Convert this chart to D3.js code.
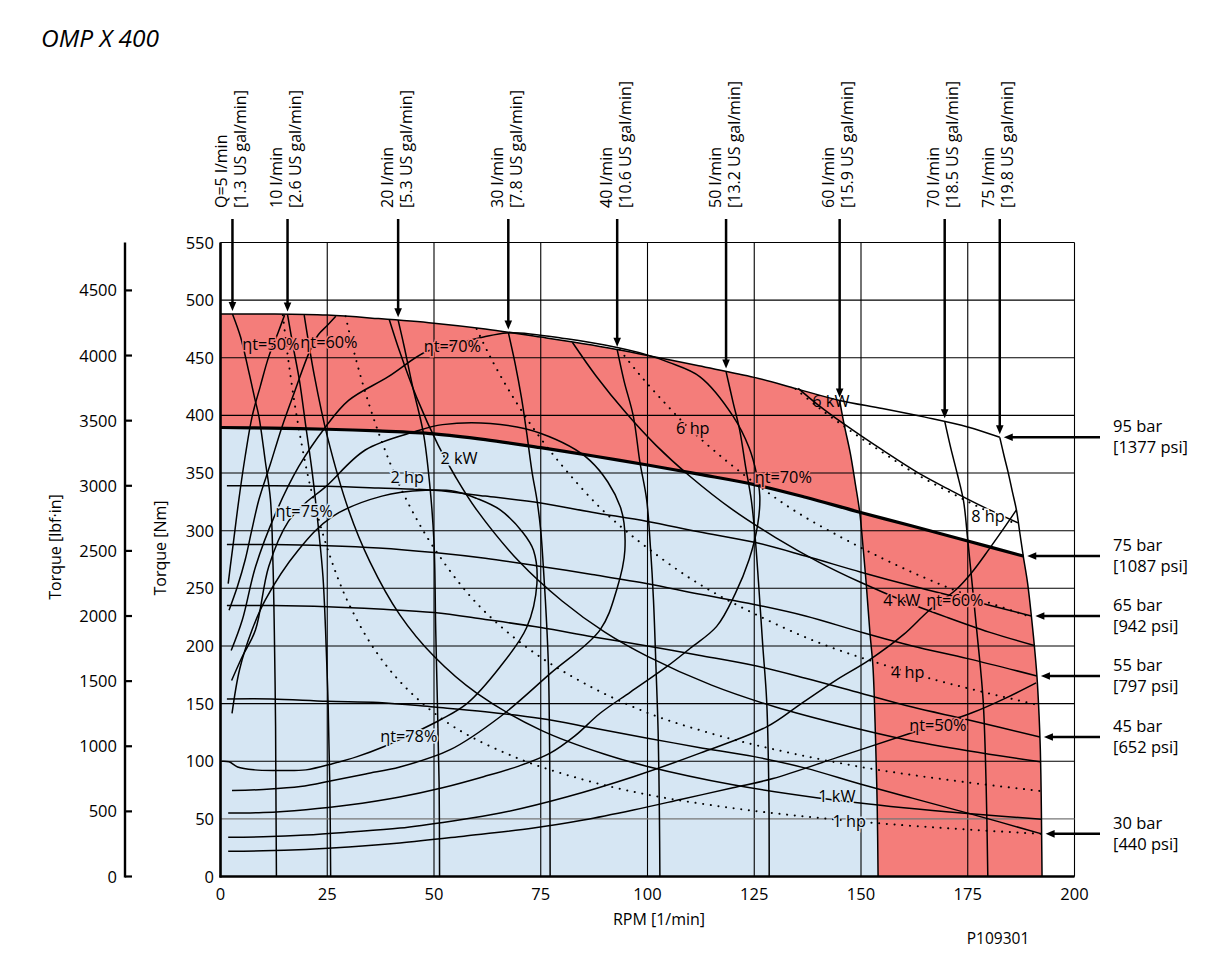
<!DOCTYPE html>
<html><head><meta charset="utf-8">
<script src="https://cdn.jsdelivr.net/npm/d3@7"></script>
<style>
body{margin:0;background:#fff;}
text{font-family:'Open Sans',sans-serif;fill:#000;}
</style></head><body>
<svg id="c" width="1213" height="958"></svg>
<script>
// ---------------- DATA ----------------
const rpmTicks = [0,25,50,75,100,125,150,175,200];
const nmTicks = [0,50,100,150,200,250,300,350,400,450,500,550];
const lbfTicks = [0,500,1000,1500,2000,2500,3000,3500,4000,4500];

// pressure lines [rpm, Nm]
const bar95 = [[0,488],[12,488],[25,487],[37,484],[50,480],[62,475],[75,468],[87,461],[100,452],[112,443],[125,433],[135,423],[145,413],[155,406],[165,398.5],[175,390],[182.5,381]];
const bar75 = [[0,389.5],[12,389],[25,388],[37,386.5],[50,384],[62,379],[75,372],[87,365],[100,357],[112,349],[125,340],[137,329],[149.7,316],[162,304],[175,291],[188,278]];
const bar65 = [[1.5,339],[12,339],[25,338.5],[37,337],[50,335],[62,330],[75,324],[87,316],[100,308],[112,299],[125,290],[137,278],[150,264],[162,252],[175,240],[189.9,226]];
const bar55 = [[1.5,288],[12,288],[25,287],[37,285],[50,281],[62,276],[75,269],[87,262],[100,254],[112,245],[125,236],[137,226],[150,212],[162,200],[175,189],[191.2,174]];
const bar45 = [[1.5,235],[12,235],[25,234],[37,232],[50,229],[62,223],[75,216],[87,208],[100,200],[112,192],[125,183],[137,172],[150,159],[162,147],[175,136],[191.9,121]];
const bar30 = [[1.5,154],[12,154],[25,152],[37,151],[50,147],[62,143],[75,137],[87,129],[100,120],[112,112],[125,104],[137,94],[150,80],[162,68],[175,55],[192.3,37]];
const pressureBar = ["95 bar","75 bar","65 bar","55 bar","45 bar","30 bar"];
const pressurePsi = ["[1377 psi]","[1087 psi]","[942 psi]","[797 psi]","[652 psi]","[440 psi]"];

// flow lines [rpm, Nm]
const q5  = [[2.8,488],[4.7,468],[6.5,440],[8,415],[9,399],[10.5,360],[11.7,327],[12.3,270],[12.6,214],[12.9,130],[13,60],[13.1,0]];
const q10 = [[15.7,487.5],[17,460],[18.5,430],[20,390],[21.5,350],[23,300],[24,260],[24.6,214],[25.2,150],[25.6,80],[25.8,0]];
const q20 = [[41.6,482.6],[43,460],[45,425],[47.5,385],[49,340],[50,290],[50.4,214],[50.8,150],[51.2,80],[51.3,0]];
const q30 = [[67.4,472],[69,445],[70.5,415],[71.7,385],[73,350],[74.1,327],[75,300],[75.6,269],[76.3,225],[76.8,182],[77.1,100],[77.2,0]];
const q40 = [[92.9,457],[94.5,430],[96.7,399],[98.2,360],[99.8,327],[100.7,285],[101.4,240],[102,180],[102.5,124],[102.8,50],[102.9,0]];
const q50 = [[118.4,438],[120,412],[121.6,387],[123,355],[124.3,327],[125.2,295],[126,255],[127,200],[127.9,153],[128.4,80],[128.5,0]];
const q60 = [[145,413],[146,393],[147.5,367],[148.7,340],[149.7,316],[150.5,285],[151.2,255],[152.1,211],[152.8,182],[153.4,120],[153.8,60],[154,0]];
const q70 = [[169.6,395],[171,372],[172.5,350],[174,326],[175,292],[176,255],[177.2,210],[178.6,153],[179.3,80],[179.7,0]];
const q75 = [[182.5,381],[183.5,365],[184.5,350],[185.5,333],[186.4,318],[187.2,298],[188,278],[189,255],[189.9,226],[190.6,200],[191.2,174],[191.7,140],[192,110],[192.2,70],[192.3,37],[192.4,0]];
const flowQ = ["Q=5 l/min","10 l/min","20 l/min","30 l/min","40 l/min","50 l/min","60 l/min","70 l/min","75 l/min"];
const flowGal = ["[1.3 US gal/min]","[2.6 US gal/min]","[5.3 US gal/min]","[7.8 US gal/min]","[10.6 US gal/min]","[13.2 US gal/min]","[15.9 US gal/min]","[18.5 US gal/min]","[19.8 US gal/min]"];

// total efficiency contours
const eff78 = [[0.3,100],[2,99.5],[4,95],[8,92.5],[13,92],[20,92.5],[26.4,98],[32,104],[38.2,112.6],[45,124],[51.5,136],[57.7,150],[65.5,182],[71.7,216],[74.1,254],[73.3,283],[70.9,298],[65.5,318],[60,328],[55,334],[48,335],[37.8,330],[26.1,312],[18.2,283],[10.5,240],[7.4,214],[4.5,180],[2.7,141.5]];
const eff75 = [[2.7,74.5],[10,75.5],[18.7,78],[26,83],[34,89],[42,95],[53.8,110],[65.5,138.6],[77.2,176],[88.9,214],[92.8,249],[94.7,283],[93.6,321],[86.5,361],[74.9,384.5],[63.2,393],[52,392],[45.6,386],[33.9,370],[24.6,338],[19.9,324],[15.9,308],[11.3,269],[8.2,214],[5,190],[2.6,170]];
const eff70 = [[1.8,55],[10,55.5],[20,58],[30,62],[42,69],[52,77],[61.6,86.6],[70,96],[77.2,107],[83,122],[88.9,141.6],[96,160],[104.5,182],[110,198],[116.2,217],[120.5,245],[123.8,275],[125.8,305],[126.3,330],[125.5,350],[123.8,372],[120.1,399],[112.3,433.5],[105,446],[99.9,452.5],[90,461],[80,467],[73,470.5],[67,471.5],[61.6,468],[55,462],[48,455],[39.3,433.6],[30,413],[24.6,390],[18.3,355.5],[12.9,315],[8.2,268.7],[5.1,222.5],[2.5,196]];
const eff60low = [[1.8,34],[10,34.5],[20,36],[30,38.5],[42,42],[54,48],[65.5,55],[81,69],[96.7,86.6],[112.3,107],[128,130],[136,150],[144,170],[152,188],[160,210],[166,231],[172.3,249],[176,264],[180,284],[184,305],[186.4,318]];
const eff60top = [[27,486],[25,478],[22.9,470],[20.7,454],[17.5,422],[14.4,390],[11.7,358],[9,327],[7.3,300],[5.8,275],[4,252],[2,231]];
const eff50low = [[1.8,22],[10,22.3],[20,23.5],[30,25.5],[42,29],[57,35],[73.3,42],[85,49],[96.7,57.7],[108,67],[120,77],[129.4,85],[145,104],[161.4,124],[168,132],[176,142],[184,155],[191,168]];
const eff50top = [[15,487],[13.5,472],[11.3,451],[9.3,425],[7.4,399],[5.8,365],[4.3,327],[3.2,295],[2.3,269],[1.8,254]];

// power curves (solid kW, dotted hp)
const kw1 = [[19.6,487],[22,434],[25,382],[30,318],[35,273],[42,227],[50,191],[60,159],[75,127],[90,106],[100,95.5],[120,79.6],[140,68.2],[160,59.7],[175,54.6],[192.3,49.7]];
const kw2 = [[39.5,483.5],[42,455],[46,415],[51,374],[55,347],[60,318],[70,273],[80,239],[90,212],[100,191],[115,166],[130,147],[145,132],[160,119],[175,109],[192,99.5]];
const kw4 = [[82.4,463.5],[88,434],[95,402],[102,374],[110,347],[120,318],[130,294],[140,273],[150,255],[160,239],[170,225],[180,212],[190.6,200.4]];
const kw6 = [[135.3,423.5],[140,409],[147,390],[155,370],[163,351],[171,335],[179,320],[186.75,306.8]];
const hp1 = [[14.6,487],[16,445],[18,396],[21,339],[25,285],[30,237],[37,192],[45,158],[55,129],[70,102],[85,84],[100,71],[120,59.3],[140,50.9],[160,44.5],[176,40.5],[192.3,37]];
const hp2 = [[29.3,486],[31,459],[34,419],[38,375],[43,331],[50,285],[60,237],[72,198],[85,168],[100,142],[115,124],[130,110],[150,95],[170,84],[192.2,74.1]];
const hp4 = [[60,475],[63,452],[68,419],[74,385],[81,352],[90,316],[100,285],[112,254],[125,228],[140,203],[155,184],[170,168],[191.5,148.7]];
const hp6 = [[93.5,457],[98,436],[104,411],[110,388],[118,362],[126,339],[135,316],[145,295],[155,276],[165,259],[175,244],[189.9,225]];
const hp8 = [[134.7,423],[140,407],[147,388],[155,368],[163,349],[171,333],[179,318],[186.8,305]];

// annotation texts with their anchor [rpm, Nm] (left end of baseline)
const labelText = ["ηt=50%","ηt=60%","ηt=70%","ηt=75%","ηt=78%","ηt=70%","ηt=60%","ηt=50%","4 kW","4 hp","1 kW","1 hp","6 hp","6 kW","8 hp","2 kW","2 hp"];
const labelRpm  = [5.1,18.7,47.6,12.9,37.4,125.1,165.3,161.3,155.2,157,140,143.3,106.7,138.6,175.8,51.5,39.8];
const labelNm   = [456.8,458.2,455.3,312,117,341,234.7,126.2,234.7,172,64.9,43.2,383.9,407.6,307.8,357.6,341];

// ---------------- DRAWING ----------------
const svg = d3.select('#c');
const x = d3.scaleLinear().domain([0,200]).range([220.5,1074.5]);
const y = d3.scaleLinear().domain([0,550]).range([876.5,242.5]);
const yl = d3.scaleLinear().domain([0,550*8.8507]).range([876.5,242.5]);
const ln = d3.line().x(d=>x(d[0])).y(d=>y(d[1])).curve(d3.curveCatmullRom.alpha(0.5));
const RED = '#F47D7A', BLUE = '#D6E6F3';

const cat = (...segs) => segs.map((s,i)=>{
  const p = typeof s === 'string' ? s : ln(s);
  return i ? p.replace(/^M/,'L') : p;
}).join('') + 'Z';

// fills
svg.append('path').attr('fill',RED).attr('d',
  cat(bar95.filter(d=>d[0]<=145), q60.filter(d=>d[1]>=316), bar75.filter(d=>d[0]<=149.7).reverse()));
svg.append('path').attr('fill',BLUE).attr('d',
  cat(bar75.filter(d=>d[0]<=149.7), q60.filter(d=>d[1]<=316), `M${x(0)},${y(0)}`));
svg.append('path').attr('fill',RED).attr('d',
  cat(bar75.filter(d=>d[0]>=149.7), q75.filter(d=>d[1]<=278), q60.filter(d=>d[1]<=316).reverse()));

// grid
const g = svg.append('g');
g.selectAll('.vg').data(rpmTicks).join('line')
  .attr('x1',d=>x(d)).attr('x2',d=>x(d)).attr('y1',y(0)).attr('y2',y(550))
  .attr('stroke','#000').attr('stroke-width',1.1);
g.selectAll('.hg').data(nmTicks).join('line')
  .attr('x1',x(0)).attr('x2',x(200)).attr('y1',d=>y(d)).attr('y2',d=>y(d))
  .attr('stroke',d=>d===50?'#777':'#000').attr('stroke-width',1.1);

// curves
const curves = svg.append('g').attr('fill','none').attr('stroke','#000');
const solid = [bar95,bar65,bar55,bar45,bar30,q5,q10,q20,q30,q40,q50,q60,q70,q75,
  eff78,eff75,eff70,eff60low,eff60top,eff50low,eff50top,kw1,kw2,kw4,kw6];
solid.forEach(s=>curves.append('path').attr('d',ln(s)).attr('stroke-width',1.5));
curves.append('path').attr('d',ln(bar75)).attr('stroke-width',3.2);
[hp1,hp2,hp4,hp6,hp8].forEach(s=>curves.append('path').attr('d',ln(s))
  .attr('stroke-width',2).attr('stroke-linecap','round').attr('stroke-dasharray','0.1 7.6'));

// axes
svg.append('line').attr('x1',x(0)).attr('x2',x(0)).attr('y1',y(0)+1).attr('y2',y(550)).attr('stroke','#000').attr('stroke-width',2.6);
svg.append('line').attr('x1',x(0)-1).attr('x2',x(200)).attr('y1',y(0)).attr('y2',y(0)).attr('stroke','#000').attr('stroke-width',2.6);
svg.append('line').attr('x1',125).attr('x2',125).attr('y1',y(0)+1).attr('y2',y(550)).attr('stroke','#000').attr('stroke-width',2.4);
svg.selectAll('.lt').data(lbfTicks).join('line')
  .attr('x1',125).attr('x2',132).attr('y1',d=>yl(d)).attr('y2',d=>yl(d)).attr('stroke','#000').attr('stroke-width',2.2);
svg.selectAll('.ltl').data(lbfTicks).join('text')
  .attr('x',117).attr('y',d=>yl(d)+6).attr('text-anchor','end').attr('font-size','16.5px').text(d=>d);
svg.selectAll('.ntl').data(nmTicks).join('text')
  .attr('x',214).attr('y',d=>y(d)+6).attr('text-anchor','end').attr('font-size','16.5px').text(d=>d);
svg.selectAll('.xtl').data(rpmTicks).join('text')
  .attr('x',d=>x(d)).attr('y',899.5).attr('text-anchor','middle').attr('font-size','16.5px').text(d=>d);

svg.append('text').attr('transform','translate(61,547) rotate(-90)').attr('text-anchor','middle').attr('font-size','16px').text('Torque [lbf·in]');
svg.append('text').attr('transform','translate(166,548) rotate(-90)').attr('text-anchor','middle').attr('font-size','16px').text('Torque [Nm]');
svg.append('text').attr('x',659).attr('y',925).attr('text-anchor','middle').attr('font-size','16px').text('RPM [1/min]');
svg.append('text').attr('x',998).attr('y',944).attr('text-anchor','middle').attr('font-size','15.5px').text('P109301');
svg.append('text').attr('x',41).attr('y',47).attr('font-size','24.5px').attr('font-style','italic').text('OMP X 400');

// curve labels
const labelBg = ["red","red","red","blue","blue","red","red","red","red","red","blue","blue","red","none","white","blue","blue"];
const bgCol = {red:RED, blue:BLUE, white:'#fff', none:'none'};
labelText.forEach((t,i)=>{
  svg.append('text').attr('x',x(labelRpm[i])).attr('y',y(labelNm[i]))
    .attr('font-size','16.3px').attr('stroke',bgCol[labelBg[i]]).attr('stroke-width',3)
    .attr('paint-order','stroke').text(t);
});

// flow arrows + labels on top
const flows = [q5,q10,q20,q30,q40,q50,q60,q70,q75];
flows.forEach((s,i)=>{
  const ax = x(s[0][0]), tip = y(s[0][1]) - 3;
  svg.append('line').attr('x1',ax).attr('x2',ax).attr('y1',219).attr('y2',tip-7).attr('stroke','#000').attr('stroke-width',2.5);
  svg.append('path').attr('d',`M${ax-3.8},${tip-9}L${ax+3.8},${tip-9}L${ax},${tip}Z`).attr('fill','#000');
  svg.append('text').attr('transform',`translate(${ax-5.5},208) rotate(-90)`).attr('font-size','16px').text(flowQ[i]);
  svg.append('text').attr('transform',`translate(${ax+13.5},208) rotate(-90)`).attr('font-size','16px').text(flowGal[i]);
});

// pressure arrows + labels on right
const pres = [bar95,bar75,bar65,bar55,bar45,bar30];
pres.forEach((s,i)=>{
  const e = s[s.length-1];
  const ay = y(e[1]), tx = x(e[0]) + 4;
  svg.append('line').attr('x1',tx+7).attr('x2',1100).attr('y1',ay).attr('y2',ay).attr('stroke','#000').attr('stroke-width',2.5);
  svg.append('path').attr('d',`M${tx},${ay}L${tx+9},${ay-3.8}L${tx+9},${ay+3.8}Z`).attr('fill','#000');
  svg.append('text').attr('x',1113).attr('y',ay-5).attr('font-size','16.5px').text(pressureBar[i]);
  svg.append('text').attr('x',1113).attr('y',ay+16).attr('font-size','16.5px').text(pressurePsi[i]);
});
</script>
</body></html>
